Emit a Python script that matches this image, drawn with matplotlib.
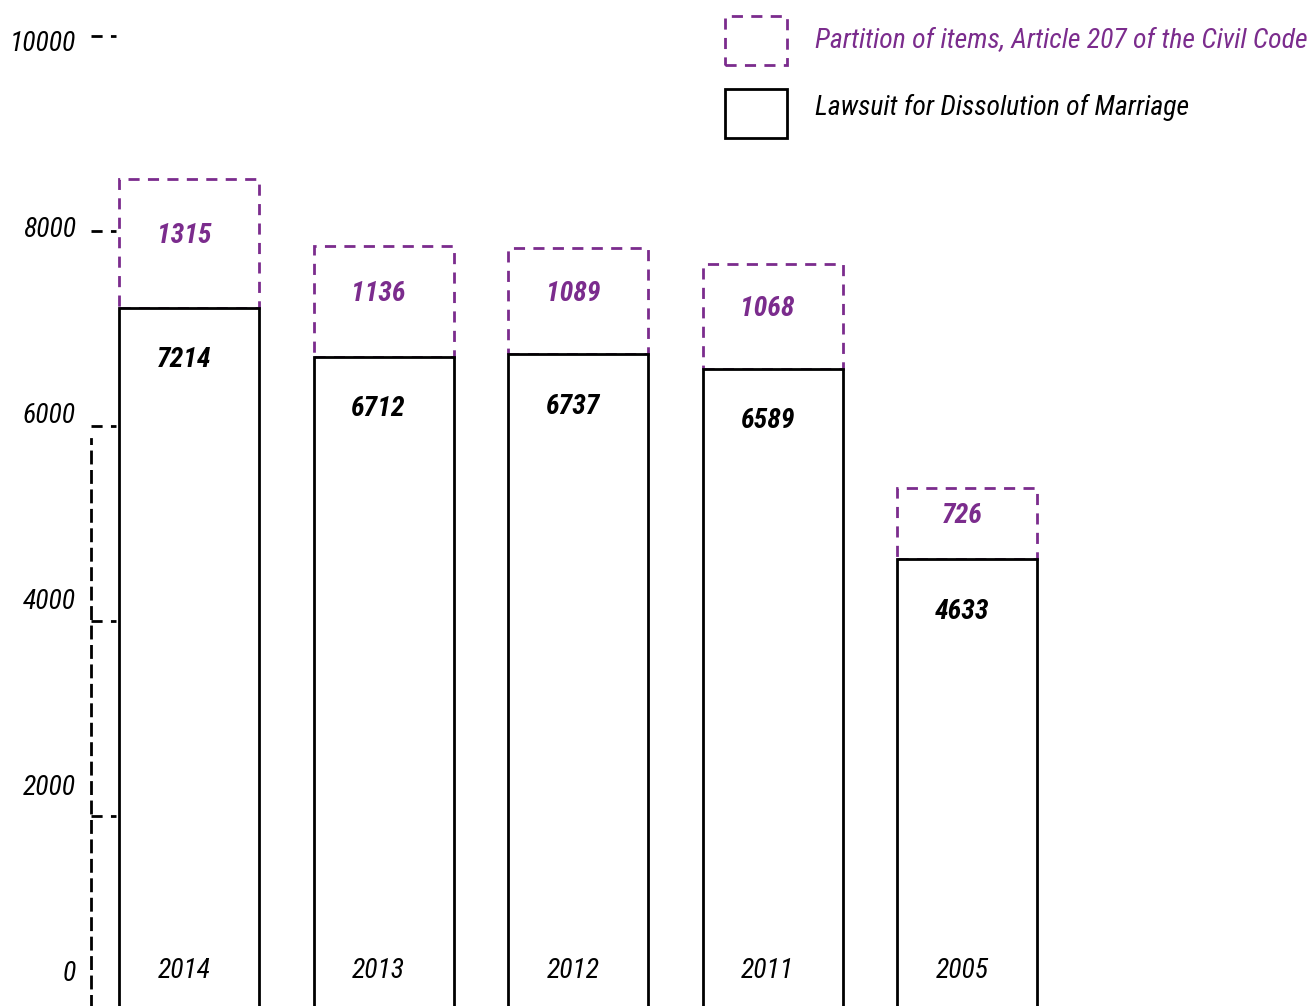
import matplotlib
matplotlib.use("Agg")
import matplotlib.pyplot as plt
from matplotlib.patches import Rectangle
from matplotlib.transforms import blended_transform_factory

years = ["2014", "2013", "2012", "2011", "2005"]
lawsuit = [7214, 6712, 6737, 6589, 4633]
partition = [1315, 1136, 1089, 1068, 726]
yticks = [0, 2000, 4000, 6000, 8000, 10000]
legend_labels = ["Partition of items, Article 207 of the Civil Code",
                 "Lawsuit for Dissolution of Marriage"]

PURPLE = "#7B2C8D"
plt.rcParams["font.family"] = ["Roboto Condensed", "DejaVu Sans"]
FS = 20

W, H = 1310, 1006
fig = plt.figure(figsize=(W / 100, H / 100), dpi=100)
# axes: x from pixel 91 to right edge, 0 at pixel y=1011, 10000 at pixel y=36
ax = fig.add_axes([91 / W, (H - 1011) / H, 1 - 91 / W, (1011 - 36) / H])
ax.set_xlim(-0.504, 5.763)
ax.set_ylim(0, 10000)

x = list(range(len(years)))
bw = 0.72
ax.bar(x, lawsuit, width=bw, facecolor="white", edgecolor="black", linewidth=2, zorder=3)
ax.bar(x, partition, width=bw, bottom=lawsuit, facecolor="none", edgecolor=PURPLE,
       linewidth=2, linestyle=(0, (4, 3)), zorder=2)

px = 2000 / 195  # data units per pixel
for xi, yr, a, b in zip(x, years, lawsuit, partition):
    ax.text(xi - 0.025, a - 52 * px, str(a), ha="center", va="center", fontsize=FS,
            fontweight="bold", style="italic", color="black", zorder=5)
    ax.text(xi - 0.025, a + b / 2 + 8 * px, str(b), ha="center", va="center", fontsize=FS,
            fontweight="bold", style="italic", color=PURPLE, zorder=5)
    ax.text(xi - 0.025, 40 * px, yr, ha="center", va="center", fontsize=FS,
            style="italic", color="black", zorder=5)

# axes styling
for s in ["top", "right", "bottom"]:
    ax.spines[s].set_visible(False)
ax.spines["left"].set_linestyle((0, (4, 3)))
ax.spines["left"].set_linewidth(2)
ax.spines["left"].set_bounds(-100, 5870)
ax.set_xticks([])
ax.set_yticks(yticks)
ax.tick_params(axis="y", length=0, pad=0)
ax.set_yticklabels([])
tr = blended_transform_factory(ax.transAxes, ax.transData)
for t in yticks:
    ax.plot([0, 25 / (W - 91)], [t, t], transform=tr, color="black", lw=2,
            linestyle=(0, (4, 3)), clip_on=False, zorder=4)
    ax.text(-15 / (W - 91), 380 + 0.954 * t, str(t), transform=tr, ha="right", va="center",
            fontsize=FS, style="italic", color="black")

# legend
fig.patches.append(Rectangle((725 / W, 1 - 65 / H), 62 / W, 49 / H, transform=fig.transFigure,
                             facecolor="none", edgecolor=PURPLE, lw=2, linestyle=(0, (4, 3))))
fig.patches.append(Rectangle((725 / W, 1 - 138 / H), 62 / W, 49 / H, transform=fig.transFigure,
                             facecolor="none", edgecolor="black", lw=2))
fig.text(815 / W, 1 - 40 / H, legend_labels[0], ha="left", va="center", fontsize=FS,
         style="italic", color=PURPLE)
fig.text(815 / W, 1 - 107 / H, legend_labels[1], ha="left", va="center", fontsize=FS,
         style="italic", color="black")

fig.savefig("out.png", dpi=100, facecolor="white")
